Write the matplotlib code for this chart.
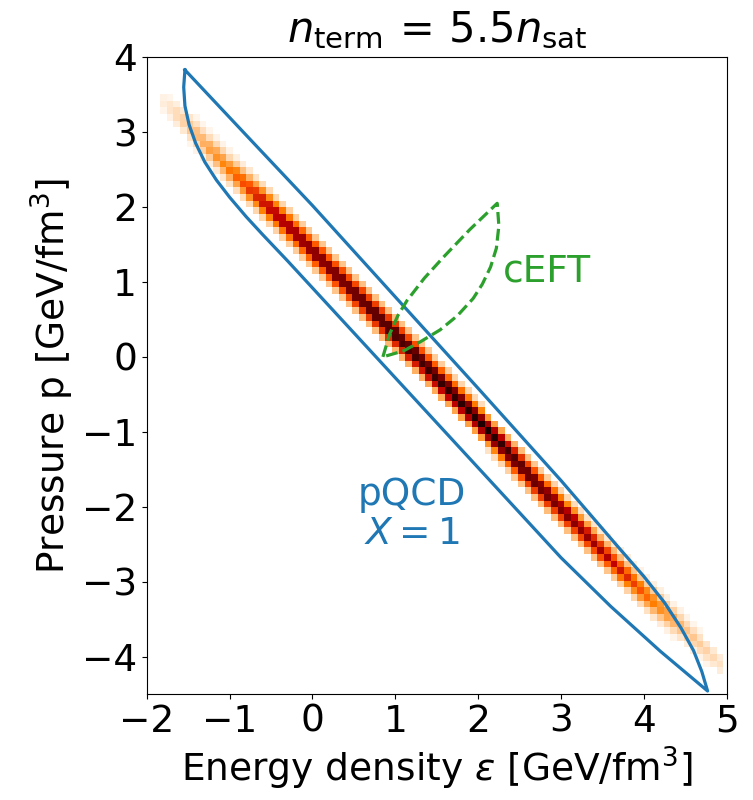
import numpy as np
import matplotlib
matplotlib.use('Agg')
import matplotlib.pyplot as plt

# band of allowed EoS points (2D histogram): centre line and density along it
band_eps = [-1.95, -1.6, -1.0, -0.6, 0.0, 0.94, 2.0, 2.63, 3.5, 4.0, 4.5, 5.0]
band_p = [3.55, 3.20, 2.50, 2.08, 1.42, 0.37, -0.84, -1.60, -2.60, -3.15, -3.65, -4.18]
band_peak = [0.0, 0.10, 0.30, 0.58, 0.80, 1.0, 1.0, 0.92, 0.62, 0.36, 0.14, 0.05]
# relative weight across the band, in bins off the centre line
cross_offset = [-3, -2, -1, 0, 1, 2, 3]
cross_weight = [0.06, 0.22, 0.62, 1.0, 0.62, 0.22, 0.06]

# pQCD X=1 region (closed curve)
pqcd_upper_eps = [-1.54, -0.75, 0.0, 1.0, 2.0, 3.0, 3.7, 4.0, 4.25, 4.45, 4.6, 4.7, 4.77]
pqcd_upper_p = [3.83, 2.90, 2.02, 0.80, -0.42, -1.65, -2.55, -2.93, -3.28, -3.62, -3.92, -4.20, -4.46]
pqcd_lower_eps = [4.77, 4.2, 3.6, 3.0, 2.0, 1.0, 0.0, -0.3, -0.6, -0.8, -1.0, -1.16, -1.30,
                  -1.41, -1.49, -1.54, -1.555, -1.54]
pqcd_lower_p = [-4.46, -3.93, -3.33, -2.68, -1.48, -0.28, 0.92, 1.28, 1.63, 1.87, 2.13, 2.36, 2.60,
                2.85, 3.10, 3.35, 3.60, 3.83]

# cEFT region (closed curve)
ceft_left_eps = [0.85, 0.93, 1.03, 1.14, 1.35, 1.58, 1.9, 2.23]
ceft_left_p = [0.0, 0.30, 0.55, 0.75, 1.05, 1.33, 1.70, 2.05]
ceft_right_eps = [2.23, 2.25, 2.22, 2.15, 2.05, 1.94, 1.75, 1.54, 1.30, 1.10, 0.85]
ceft_right_p = [2.05, 1.75, 1.45, 1.20, 0.97, 0.78, 0.55, 0.36, 0.20, 0.08, 0.0]

blue = '#1f77b4'
green = '#2ca02c'

fig = plt.figure(figsize=(7.53, 8), dpi=100)
ax = fig.add_axes([0.195, 0.1325, 0.77, 0.796])

# histogram cells
dx, dy = 0.08, 0.089
xe = np.arange(-2.0, 5.0 + 1e-9, dx)
ye = np.arange(-4.5, 4.0 + dy, dy)
xc = 0.5 * (xe[:-1] + xe[1:])
yc = 0.5 * (ye[:-1] + ye[1:])
X, Y = np.meshgrid(xc, yc)
pc = np.interp(X, band_eps, band_p)
off = (Y - pc) / dy
val = np.interp(X, band_eps, band_peak) * np.interp(off, cross_offset, cross_weight, left=0, right=0)
val = np.ma.masked_less(val, 0.02)
ax.pcolormesh(xe, ye, val, cmap='gist_heat_r', vmin=0, vmax=1.05, shading='flat')

ax.plot(pqcd_upper_eps + pqcd_lower_eps, pqcd_upper_p + pqcd_lower_p, color=blue, lw=2.3)
ax.plot(ceft_left_eps + ceft_right_eps, ceft_left_p + ceft_right_p, color=green, lw=2.3, ls='--')

ax.text(2.3, 1.14, 'cEFT', color=green, fontsize=27, ha='left', va='center')
ax.text(1.2, -2.1, 'pQCD\n$X=1$', color=blue, fontsize=27, ha='center', va='center',
        linespacing=1.1)

ax.set_xlim(-2, 5)
ax.set_ylim(-4.5, 4)
ax.set_xticks(range(-2, 6))
ax.set_yticks(range(-4, 5))
ax.tick_params(labelsize=27)
ax.set_xlabel(r'Energy density $\varepsilon$ [GeV/fm$^3$]', fontsize=27)
ax.set_ylabel(r'Pressure p [GeV/fm$^3$]', fontsize=27)
ax.set_title(r'$n_{\rm term}\,=\,5.5n_{\rm sat}$', fontsize=30, pad=11)

fig.savefig('out.png', dpi=100)
